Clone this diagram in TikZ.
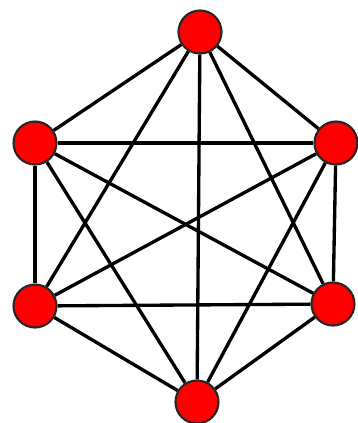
\documentclass[tikz,border=0pt]{standalone}
\usetikzlibrary{positioning}

\begin{document}
\begin{tikzpicture}[
    x=0.01cm, y=-0.01cm,
    vertex/.style={circle, draw=black!85, fill=red, line width=0.6pt, minimum size=0.43cm, inner sep=0pt},
    edge/.style={line width=0.95pt, black}
]
\useasboundingbox (0,0) rectangle (358,423);

% Vertices of the hexagon
\foreach \n/\x/\y in {1/200/32, 2/336/143, 3/333/304, 4/197/402, 5/35/306, 6/35/143} {
    \node[vertex] (v\n) at (\x, \y) {};
}

% Every pair joined
\foreach \i in {1,...,6} {
    \foreach \j in {1,...,6} {
        \ifnum\i<\j
            \draw[edge] (v\i) -- (v\j);
        \fi
    }
}

\end{tikzpicture}
\end{document}
